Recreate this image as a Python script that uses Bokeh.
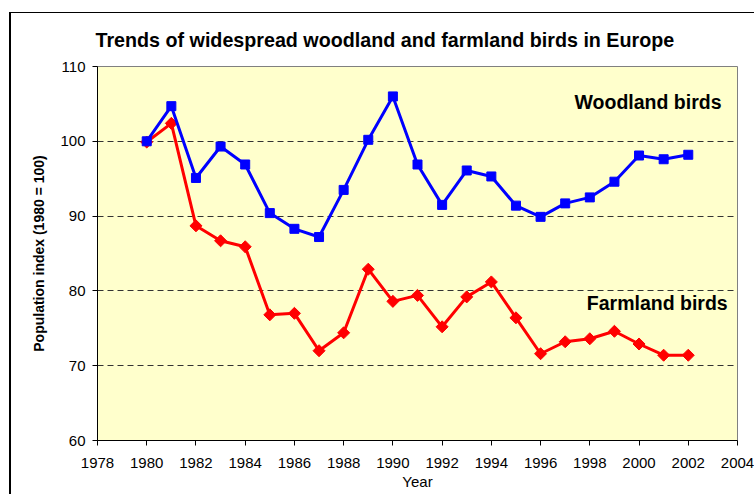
from bokeh.plotting import figure
from bokeh.models import Range1d, FixedTicker, Label
from bokeh.embed import file_html
from bokeh.resources import INLINE

# ---- data ----
years = list(range(1980, 2003))
woodland = [100.0, 104.7, 95.1, 99.3, 96.9, 90.4, 88.3, 87.2, 93.5, 100.2, 106.0,
            96.9, 91.5, 96.1, 95.3, 91.4, 89.9, 91.7, 92.5, 94.6, 98.1, 97.6, 98.2]
farmland = [99.9, 102.4, 88.7, 86.7, 85.9, 76.8, 77.0, 72.0, 74.4, 82.9, 78.6,
            79.4, 75.2, 79.2, 81.2, 76.4, 71.6, 73.2, 73.6, 74.6, 72.9, 71.4, 71.4]
x_ticks = list(range(1978, 2005, 2))
y_ticks = [60, 70, 80, 90, 100, 110]
title_text = "Trends of widespread woodland and farmland birds in Europe"
y_label = "Population index (1980 = 100)"
x_label = "Year"
series_labels = ["Woodland birds", "Farmland birds"]
label_pos = [(2003.35, 105.2), (2003.6, 78.4)]

FONT = "Liberation Sans"

p = figure(width=754, height=494, output_backend="svg", toolbar_location=None,
           x_range=Range1d(1978, 2004), y_range=Range1d(60, 110),
           min_border_left=97, min_border_right=17, min_border_top=66, min_border_bottom=54)

p.border_fill_color = None
p.background_fill_color = "#FFFFCC"
p.outline_line_color = "#808080"
p.outline_line_width = 1
p.styles = {"box-shadow": "inset 9px 12px 0 0 #ffffff, inset 11px 13px 0 0 #000000"}

# title
p.title.text = title_text
p.title.text_font = FONT
p.title.text_font_size = "19.7px"
p.title.text_font_style = "bold"
p.title.text_color = "#000000"
p.title.align = "left"
p.title.offset = -2
p.title.standoff = 31

# axes
for ax in (p.xaxis[0], p.yaxis[0]):
    ax.axis_line_color = "#000000"
    ax.axis_line_width = 1
    ax.major_tick_line_color = "#000000"
    ax.major_tick_in = 0
    ax.major_tick_out = 5
    ax.minor_tick_line_color = None
    ax.major_label_text_font = FONT
    ax.major_label_text_font_size = "15px"
    ax.major_label_text_color = "#000000"
    ax.axis_label_text_font = FONT
    ax.axis_label_text_color = "#000000"

p.xaxis.ticker = FixedTicker(ticks=x_ticks)
p.yaxis.ticker = FixedTicker(ticks=y_ticks)
p.xaxis.major_label_standoff = 12
p.yaxis.major_label_standoff = 7
p.xaxis.axis_label = x_label
p.xaxis.axis_label_standoff = 2
p.xaxis.axis_label_text_font_size = "15px"
p.xaxis.axis_label_text_font_style = "normal"
p.yaxis.axis_label = y_label
p.yaxis.axis_label_standoff = 10
p.yaxis.axis_label_text_font_size = "14px"
p.yaxis.axis_label_text_font_style = "bold"

# grid
p.xgrid.grid_line_color = None
p.ygrid.ticker = FixedTicker(ticks=[70, 80, 90, 100])
p.ygrid.grid_line_color = "#333333"
p.ygrid.grid_line_width = 1
p.ygrid.grid_line_dash = "6 4"

# series
p.line(years, farmland, line_color="#FF0000", line_width=3)
p.scatter(years, farmland, marker="square", angle=0.785398, size=8.5,
          fill_color="#FF0000", line_color="#FF0000")
p.line(years, woodland, line_color="#0000FF", line_width=3)
p.scatter(years, woodland, marker="square", size=9,
          fill_color="#0000FF", line_color="#0000FF")

for txt, (lx, ly) in zip(series_labels, label_pos):
    p.add_layout(Label(x=lx, y=ly, text=txt, text_align="right", text_baseline="alphabetic",
                       text_font=FONT, text_font_size="19.5px", text_font_style="bold",
                       text_color="#000000"))

open("out.html", "w").write(file_html(p, INLINE))
